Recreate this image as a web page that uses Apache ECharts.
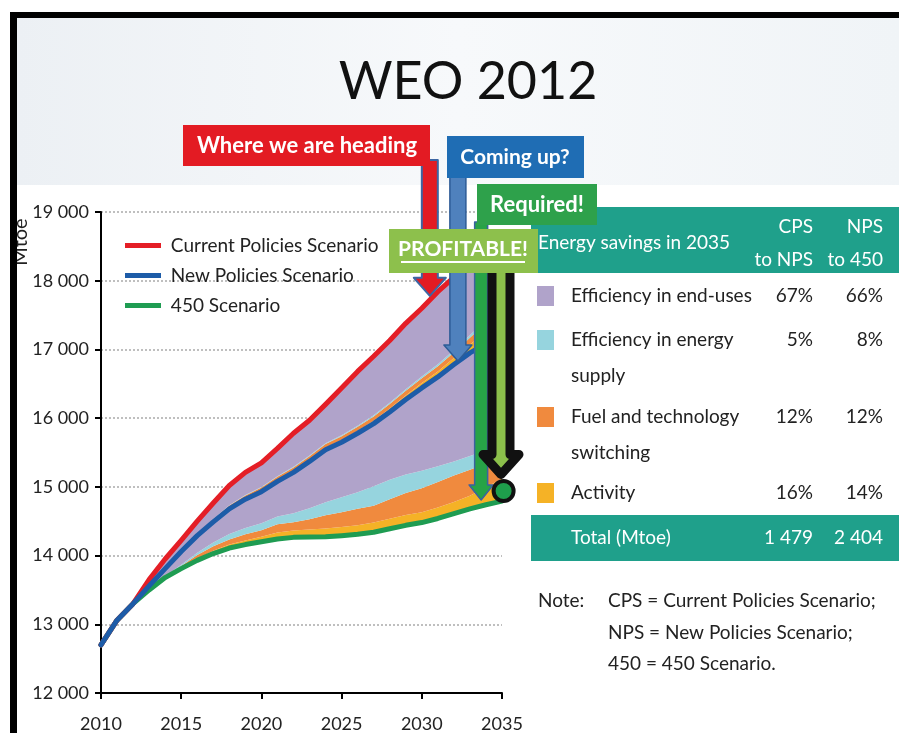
<!DOCTYPE html>
<html>
<head>
<meta charset="utf-8">
<title>WEO 2012</title>
<script src="https://cdn.jsdelivr.net/npm/echarts@6/dist/echarts.min.js"></script>
<style>
html, body { margin: 0; padding: 0; background: #fff; }
#main { width: 899px; height: 733px; }
</style>
</head>
<body>
<div id="main"></div>
<script>
// ---- data (Mtoe) ----
var years = [2010, 2011, 2012, 2013, 2014, 2015, 2016, 2017, 2018, 2019, 2020, 2021, 2022,
             2023, 2024, 2025, 2026, 2027, 2028, 2029, 2030, 2031, 2032, 2033, 2034, 2035];
var cps  = [12700, 13060, 13300, 13650, 13950, 14220, 14500, 14765, 15020, 15210, 15350, 15560, 15780,
            15970, 16200, 16440, 16680, 16900, 17130, 17380, 17600, 17840, 18050, 18260, 18470, 18676];
var nps  = [12700, 13060, 13300, 13560, 13810, 14060, 14290, 14490, 14680, 14820, 14930, 15080, 15210,
            15370, 15540, 15650, 15780, 15920, 16090, 16270, 16440, 16600, 16780, 16950, 17080, 17197];
var s450 = [12700, 13060, 13300, 13500, 13680, 13810, 13930, 14030, 14110, 14160, 14200, 14240, 14265,
            14270, 14275, 14290, 14310, 14340, 14390, 14440, 14480, 14540, 14610, 14680, 14740, 14793];

// wedge thicknesses between 450 and NPS
var actLow    = [0, 0, 0, 0, 5, 15, 25, 40, 50, 60, 75, 95, 100, 110, 120, 125, 130, 140, 145, 150, 150, 160, 170, 190, 250, 330];
var fuelLow   = [0, 0, 0, 0, 10, 25, 55, 65, 75, 90, 95, 120, 120, 150, 190, 215, 240, 245, 285, 320, 350, 370, 385, 380, 350, 295];
var supplyLow = [0, 0, 0, 0, 5, 15, 30, 55, 80, 90, 100, 115, 130, 160, 190, 220, 240, 285, 285, 270, 255, 230, 205, 200, 190, 192];
// wedge thicknesses between NPS and CPS
var actUp     = [0, 0, 0, 0, 3, 5, 8, 10, 12, 14, 16, 19, 22, 25, 28, 31, 36, 42, 50, 60, 70, 80, 95, 120, 170, 237];
var fuelUp    = [0, 0, 0, 0, 5, 12, 20, 27, 35, 40, 45, 48, 50, 52, 55, 57, 60, 62, 65, 68, 70, 75, 80, 100, 135, 177];
var supplyUp  = [0, 0, 0, 0, 2, 3, 4, 5, 6, 7, 8, 9, 10, 11, 12, 13, 15, 17, 19, 22, 25, 28, 32, 38, 50, 74];

var yTicks = [12000, 13000, 14000, 15000, 16000, 17000, 18000, 19000];

// table
var rowNames = ['Efficiency in end-uses', 'Efficiency in energy\nsupply', 'Fuel and technology\nswitching', 'Activity'];
var cpsToNps = ['67%', '5%', '12%', '16%'];
var npsTo450 = ['66%', '8%', '12%', '14%'];
var totals = ['1 479', '2 404'];

// where the annotation arrows point, in data units [year, Mtoe]
var tipRed = [2030.5, 17780];
var tipBlue = [2032.25, 16830];
var tipGreen = [2033.7, 14810];
var tipProfit = [2035.0, 15180];
var dot450 = [2035.1, 14940];

var FONT = 'Lato, "Open Sans", sans-serif';
var C = {
    red: '#e41e26', blue: '#1d5ca8', green: '#1f9c52',
    purple: '#b0a3ca', cyan: '#96d4de', orange: '#f08a3e', yellow: '#f5b226',
    teal: '#1fa08b'
};

function rest(top, bottom, parts) {
    return top.map(function (v, i) {
        var r = v - bottom[i];
        parts.forEach(function (p) { r -= p[i]; });
        return r;
    });
}
var endLow = rest(nps, s450, [actLow, fuelLow, supplyLow]);
var endUp = rest(cps, nps, [actUp, fuelUp, supplyUp]);

function band(name, vals, color) {
    return {
        name: name, type: 'line', stack: 'w', data: vals,
        symbol: 'none', silent: true, z: 1,
        lineStyle: { width: 0, opacity: 0 },
        areaStyle: { color: color, opacity: 1 }
    };
}
function scen(name, vals, color, z) {
    return {
        name: name, type: 'line', data: vals, symbol: 'none', silent: true, z: z,
        color: color, lineStyle: { color: color, width: 5, cap: 'round', join: 'round' }
    };
}

var chart = echarts.init(document.getElementById('main'), null, { renderer: 'canvas' });

var option = {
    animation: false,
    backgroundColor: '#fff',
    grid: { left: 101, top: 212, right: 397, bottom: 40 },
    legend: {
        data: ['Current Policies Scenario', 'New Policies Scenario', '450 Scenario'],
        orient: 'vertical', left: 120, top: 231, itemWidth: 36, itemHeight: 5, itemGap: 11,
        icon: 'rect', selectedMode: false,
        formatter: function (n) { return ' ' + n; },
        textStyle: { fontFamily: FONT, fontSize: 19, color: '#222' }
    },
    xAxis: {
        type: 'category', boundaryGap: false, data: years.map(String),
        axisLine: { lineStyle: { color: '#000', width: 2 } },
        axisTick: { length: 6, interval: 4, lineStyle: { color: '#000', width: 2 } },
        splitLine: { show: false },
        axisLabel: { interval: 4, margin: 22, fontFamily: FONT, fontSize: 18, color: '#222' }
    },
    yAxis: {
        type: 'value', min: yTicks[0], max: yTicks[yTicks.length - 1], interval: 1000,
        axisLine: { show: true, lineStyle: { color: '#000', width: 2 } },
        axisTick: { show: true, length: 6, lineStyle: { color: '#000', width: 2 } },
        splitLine: { show: true, lineStyle: { color: '#aaa', width: 1.5, type: [2, 2] } },
        axisLabel: { margin: 12, fontFamily: FONT, fontSize: 18, color: '#222',
                     formatter: function (v) { return String(v).replace(/(\d+)(\d{3})$/, '$1 $2'); } }
    },
    series: [
        { name: 'base', type: 'line', stack: 'w', data: s450, symbol: 'none', silent: true,
          lineStyle: { width: 0, opacity: 0 }, z: 1 },
        band('Activity (450)', actLow, C.yellow),
        band('Fuel (450)', fuelLow, C.orange),
        band('Supply (450)', supplyLow, C.cyan),
        band('End-use (450)', endLow, C.purple),
        band('Activity (NPS)', actUp, C.yellow),
        band('Fuel (NPS)', fuelUp, C.orange),
        band('Supply (NPS)', supplyUp, C.cyan),
        band('End-use (NPS)', endUp, C.purple),
        scen('Current Policies Scenario', cps, C.red, 4),
        scen('New Policies Scenario', nps, C.blue, 5),
        scen('450 Scenario', s450, C.green, 3)
    ]
};
chart.setOption(option);

// pixel of a (fractional) year / value pair, through the chart's own axes
function px(p) {
    var a = chart.convertToPixel({ gridIndex: 0 }, [String(years[0]), p[1]]);
    var b = chart.convertToPixel({ gridIndex: 0 }, [String(years[1]), p[1]]);
    return [a[0] + (b[0] - a[0]) * (p[0] - years[0]), a[1]];
}

// ---- slide decoration, table and arrows ----
var zc = 40;
var g = [];
function add(el) { el.z = el.z == null ? zc++ : el.z; el.silent = true; g.push(el); }
function text(x, y, s, o) {
    o = o || {};
    add({ type: 'text', x: x, y: y, style: {
        text: s, fill: o.fill || '#222',
        font: (o.weight || 'normal') + ' ' + (o.size || 19) + 'px ' + FONT,
        align: o.align || 'left', verticalAlign: 'middle',
        textAlign: o.align || 'left', textVerticalAlign: 'middle'
    } });
}
function rect(x, y, w, h, fill) {
    add({ type: 'rect', shape: { x: x, y: y, width: w, height: h }, style: { fill: fill } });
}
function arrowPts(cx, y0, tip, sh, hh, hl) {
    var yb = tip - hl;
    return [[cx - sh, y0], [cx + sh, y0], [cx + sh, yb], [cx + hh, yb], [cx, tip], [cx - hh, yb], [cx - sh, yb]];
}
function arrow(cx, y0, tip, sh, hh, hl, fill, stroke, lw) {
    add({ type: 'polygon', shape: { points: arrowPts(cx, y0, tip, sh, hh, hl) },
          style: { fill: fill, stroke: stroke, lineWidth: lw, lineJoin: 'round' } });
}

// backdrop
add({ type: 'rect', z: -10, shape: { x: 17, y: 18, width: 882, height: 167 },
      style: { fill: new echarts.graphic.LinearGradient(0, 0, 1, 0, [
          { offset: 0, color: '#ecf0f4' }, { offset: 0.5, color: '#f7f9fb' }, { offset: 1, color: '#f0f4f7' }]) } });
text(468, 82, 'WEO 2012', { size: 52, fill: '#111', align: 'center' });
add({ type: 'text', x: 21, y: 242, rotation: Math.PI / 2,
      style: { text: 'Mtoe', fill: '#222', font: '20px ' + FONT, align: 'center', verticalAlign: 'middle',
               textAlign: 'center', textVerticalAlign: 'middle' } });

// red: where we are heading
var r = px(tipRed);
arrow(r[0], 160, r[1], 8, 16, 18, '#e31b23', '#3d66a3', 2);
rect(183, 125, 247, 41, '#e31b23');
text(307, 146, 'Where we are heading', { size: 22, weight: 'bold', fill: '#fff', align: 'center' });

// blue: coming up?
var b = px(tipBlue);
arrow(b[0], 175, b[1], 8, 14, 16, '#4f81bd', '#2d5c97', 1.5);
rect(447, 136, 137, 42, '#1f6db4');
text(515, 157, 'Coming up?', { size: 21, weight: 'bold', fill: '#fff', align: 'center' });

// green: required!
var gr = px(tipGreen);
arrow(gr[0], 222, gr[1], 6.5, 12, 15, '#27a347', '#3a62a0', 1.5);

// table header
rect(531, 207, 368, 66, C.teal);
text(538, 243, 'Energy savings in 2035', { fill: '#fff' });
text(813, 227, 'CPS', { fill: '#fff', align: 'right' });
text(813, 260, 'to NPS', { fill: '#fff', align: 'right' });
text(883, 227, 'NPS', { fill: '#fff', align: 'right' });
text(883, 260, 'to 450', { fill: '#fff', align: 'right' });

rect(477, 184, 120, 41, '#2ea14b');
text(537, 205, 'Required!', { size: 22, weight: 'bold', fill: '#fff', align: 'center' });

// profitable arrow (black outline) + box
var pf = px(tipProfit);
arrow(pf[0] - 1, 262, pf[1], 9, 18, 20, '#8cc04b', '#111', 9);
rect(389, 229, 149, 44, '#8dc04c');
text(463, 249, 'PROFITABLE!', { size: 21, weight: 'bold', fill: '#fff', align: 'center' });
add({ type: 'line', shape: { x1: 401, y1: 262, x2: 525, y2: 262 }, style: { stroke: '#fff', lineWidth: 2 } });
var d = px(dot450);
add({ type: 'circle', shape: { cx: d[0], cy: d[1], r: 10 }, style: { fill: '#1e9e4c', stroke: '#111', lineWidth: 4 } });

// table rows
var rowY = [296, 340, 417, 493];
var rowColors = [C.purple, C.cyan, C.orange, C.yellow];
rowNames.forEach(function (n, i) {
    rect(537, rowY[i] - 10, 17, 20, rowColors[i]);
    var lines = n.split('\n');
    text(571, rowY[i], lines[0]);
    if (lines[1]) text(571, rowY[i] + 36, lines[1]);
    text(813, rowY[i], cpsToNps[i], { align: 'right' });
    text(883, rowY[i], npsTo450[i], { align: 'right' });
});
rect(531, 515, 368, 46, C.teal);
text(571, 538, 'Total (Mtoe)', { fill: '#fff' });
text(813, 538, totals[0], { fill: '#fff', align: 'right' });
text(883, 538, totals[1], { fill: '#fff', align: 'right' });

// note
text(538, 601, 'Note:');
text(608, 601, 'CPS = Current Policies Scenario;');
text(608, 633, 'NPS = New Policies Scenario;');
text(608, 664, '450 = 450 Scenario.');

// slide frame
add({ type: 'rect', z: 200, shape: { x: 10, y: 12, width: 7, height: 721 }, style: { fill: '#000' } });
add({ type: 'rect', z: 200, shape: { x: 10, y: 12, width: 889, height: 6 }, style: { fill: '#000' } });

chart.setOption({ graphic: { elements: g } });
</script>
</body>
</html>
